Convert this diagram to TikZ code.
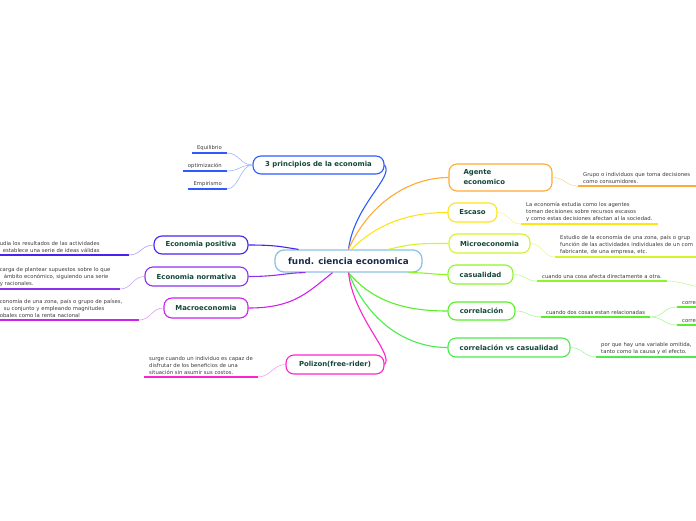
\documentclass[tikz,border=0pt]{standalone}
\usepackage{fontspec}
\setmainfont{DejaVu Sans}
\usetikzlibrary{positioning, calc}

\definecolor{hubline}{HTML}{8CC2E6}
\definecolor{hubtext}{HTML}{1B2B4B}
\definecolor{toptext}{HTML}{14473A}
\definecolor{leaftext}{HTML}{3A3A3A}
\definecolor{cblue}{HTML}{2D5BFF}
\definecolor{corange}{HTML}{FFAA33}
\definecolor{cyellow}{HTML}{FFE414}
\definecolor{cmicro}{HTML}{D2F52A}
\definecolor{clime}{HTML}{8CF52A}
\definecolor{cgreen}{HTML}{5AEE2A}
\definecolor{cgreenb}{HTML}{4CEB4C}
\definecolor{cindigo}{HTML}{4A22EE}
\definecolor{cviolet}{HTML}{8A33EE}
\definecolor{cmagenta}{HTML}{CC22EE}
\definecolor{cpink}{HTML}{FF22CC}

\begin{document}
\begin{tikzpicture}[
    x=1pt, y=-1pt,
    hub/.style={draw=hubline, line width=1.3pt, rounded corners=9pt, fill=white, minimum width=147pt, minimum height=22pt, font=\fontsize{8.8}{10}\selectfont\bfseries, text=hubtext},
    topic/.style={draw, line width=1.1pt, rounded corners=8pt, fill=white, minimum height=19pt, font=\fontsize{6.9}{8}\selectfont\bfseries, text=toptext},
    leaf/.style={inner xsep=5pt, inner ysep=2pt, font=\fontsize{5.3}{7}\selectfont, text=leaftext, align=left},
    link/.style={line width=1.1pt},
    sublink/.style={line width=0.6pt},
    uline/.style={line width=1.6pt}
]
    \useasboundingbox (0,0) rectangle (696,520);

    % --- Centre ---
    \node[hub] (fund) at (348.5,261) {fund. ciencia economica};

    % --- Topics, right side ---
    \node[topic, draw=cblue, minimum width=131pt, minimum height=18pt] (princ) at (318.5,165) {3 principios de la economia};
    \node[topic, draw=corange, minimum width=103pt, minimum height=27pt, text width=74pt, align=left, inner xsep=14.5pt, font=\fontsize{6.9}{10}\selectfont\bfseries] (agente) at (500.5,177.5) {Agente\\economico};
    \node[topic, draw=cyellow, minimum width=49pt] (escaso) at (472.5,212.5) {Escaso};
    \node[topic, draw=cmicro, minimum width=81pt] (micro) at (489.5,243.5) {Microeconomia};
    \node[topic, draw=clime, minimum width=65pt] (casual) at (480.5,274.5) {casualidad};
    \node[topic, draw=cgreen, minimum width=67pt, minimum height=18pt] (correl) at (481.5,311) {correlación};
    \node[topic, draw=cgreenb, minimum width=122pt] (corcas) at (509,347.5) {correlación vs casualidad};

    % --- Topics, left side ---
    \node[topic, draw=cindigo, minimum width=94pt, minimum height=18pt] (pos) at (201,245) {Economia positiva};
    \node[topic, draw=cviolet, minimum width=103pt] (norm) at (196.5,276.5) {Economia normativa};
    \node[topic, draw=cmagenta, minimum width=84pt, minimum height=20pt] (macro) at (206,308) {Macroeconomia};
    \node[topic, draw=cpink, minimum width=98pt] (poliz) at (335,364.5) {Polizon(free-rider)};

    % Links from the centre
    \draw[link, cblue] (fund.north) .. controls +(6,-45) and +(10,12) .. (princ.east);
    \draw[link, corange] (fund.north) .. controls +(20,-45) and +(-40,0) .. (agente.west);
    \draw[link, cyellow] ([xshift=3pt]fund.north) .. controls +(25,-25) and +(-40,0) .. (escaso.west);
    \draw[link, cmicro] ([xshift=40pt]fund.north) .. controls +(25,-6) and +(-30,0) .. (micro.west);
    \draw[link, clime] ([xshift=60pt]fund.south) .. controls +(20,0) and +(-15,0) .. (casual.west);
    \draw[link, cgreen] (fund.south) .. controls +(25,30) and +(-40,0) .. (correl.west);
    \draw[link, cgreenb] (fund.south) .. controls +(20,50) and +(-40,0) .. (corcas.west);
    \draw[link, cpink] (fund.south) .. controls +(5,45) and +(10,-10) .. (poliz.east);
    \draw[link, cindigo] (pos.east) .. controls +(30,0) and +(-15,-2) .. ([xshift=-50pt]fund.north);
    \draw[link, cviolet] (norm.east) .. controls +(30,0) and +(-20,0) .. ([xshift=-43pt]fund.south);
    \draw[link, cmagenta] (macro.east) .. controls +(45,0) and +(-25,20) .. ([xshift=-16pt]fund.south);

    % --- Leaves ---
    \node[leaf, anchor=south east] (equil) at (227,153) {Equilibrio};
    \node[leaf, anchor=south east] (optim) at (227,171) {optimización};
    \node[leaf, anchor=south east] (empir) at (227,189) {Empirismo};
    \node[leaf, anchor=south west, text width=160pt] (agleaf) at (578,186) {Grupo o individuos que toma decisiones\\como consumidores.};
    \node[leaf, anchor=south west] (escleaf) at (521,224) {La economía estudia como los agentes\\toman decisiones sobre recursos escasos\\y como estas decisiones afectan al la sociedad.};
    \node[leaf, anchor=south west, text width=160pt] (micleaf) at (555,257) {Estudio de la economía de una zona, país o grup\\función de las actividades individuales de un com\\fabricante, de una empresa, etc.};
    \node[leaf, anchor=south west] (casleaf) at (537,281) {cuando una cosa afecta directamente a otra.};
    \node[leaf, anchor=south west] (corleaf) at (541,317) {cuando dos cosas estan relacionadas};
    \node[leaf, anchor=south west, text width=60pt] (corrA) at (677,307) {corre};
    \node[leaf, anchor=south west, text width=60pt] (corrB) at (677,325) {corre};
    \node[leaf, anchor=south west, text width=130pt] (cvcleaf) at (596,357) {por que hay una variable omitida,\\tanto como la causa y el efecto.};
    \node[leaf, anchor=south east, text width=124pt] (posleaf) at (129,255) {udia los resultados de las actividades\\\hspace*{3pt}establece una serie de ideas válidas};
    \node[leaf, anchor=south east, text width=115pt] (normleaf) at (120,289) {carga de plantear supuestos sobre lo que\\\hspace*{4pt}ámbito económico, siguiendo una serie\\y racionales.};
    \node[leaf, anchor=south east, text width=134pt] (macleaf) at (139,320) {conomía de una zona, país o grupo de países,\\\hspace*{4pt}su conjunto y empleando magnitudes\\obales como la renta nacional};
    \node[leaf, anchor=south west] (polleaf) at (144,377) {surge cuando un individuo es capaz de\\disfrutar de los beneficios de una\\situación sin asumir sus costos.};
    \coordinate (casnext) at (710,288);

    % Underlines
    \draw[uline, cblue] (equil.south west) -- (equil.south east);
    \draw[uline, cblue] (optim.south west) -- (optim.south east);
    \draw[uline, cblue] (empir.south west) -- (empir.south east);
    \draw[uline, corange] (agleaf.south west) -- (agleaf.south east);
    \draw[uline, cyellow] (escleaf.south west) -- (escleaf.south east);
    \draw[uline, cmicro] (micleaf.south west) -- (micleaf.south east);
    \draw[uline, clime] (casleaf.south west) -- (casleaf.south east);
    \draw[uline, cgreen] (corleaf.south west) -- (corleaf.south east);
    \draw[uline, cgreen] (corrA.south west) -- (corrA.south east);
    \draw[uline, cgreen] (corrB.south west) -- (corrB.south east);
    \draw[uline, cgreenb] (cvcleaf.south west) -- (cvcleaf.south east);
    \draw[uline, cindigo] (posleaf.south west) -- (posleaf.south east);
    \draw[uline, cviolet] (normleaf.south west) -- (normleaf.south east);
    \draw[uline, cmagenta] (macleaf.south west) -- (macleaf.south east);
    \draw[uline, cpink] (polleaf.south west) -- (polleaf.south east);

    % Links to the leaves
    \draw[sublink, cblue!45] (princ.west) .. controls +(-12,0) and +(12,0) .. (equil.south east);
    \draw[sublink, cblue!45] (princ.west) .. controls +(-12,0) and +(12,0) .. (optim.south east);
    \draw[sublink, cblue!45] (princ.west) .. controls +(-12,0) and +(12,0) .. (empir.south east);
    \draw[sublink, corange!50] (agente.east) .. controls +(13,0) and +(-13,0) .. (agleaf.south west);
    \draw[sublink, cyellow!50] (escaso.east) .. controls +(12,0) and +(-12,0) .. (escleaf.south west);
    \draw[sublink, cmicro!50] (micro.east) .. controls +(12,0) and +(-12,0) .. (micleaf.south west);
    \draw[sublink, clime!50] (casual.east) .. controls +(12,0) and +(-12,0) .. (casleaf.south west);
    \draw[sublink, clime!50] (casleaf.south east) .. controls +(14,0) and +(-14,0) .. (casnext);
    \draw[sublink, cgreen!50] (correl.east) .. controls +(12,0) and +(-12,0) .. (corleaf.south west);
    \draw[sublink, cgreen!50] (corleaf.south east) .. controls +(14,0) and +(-14,0) .. (corrA.south west);
    \draw[sublink, cgreen!50] (corleaf.south east) .. controls +(14,0) and +(-14,0) .. (corrB.south west);
    \draw[sublink, cgreenb!50] (corcas.east) .. controls +(12,0) and +(-12,0) .. (cvcleaf.south west);
    \draw[sublink, cindigo!45] (pos.west) .. controls +(-12,0) and +(12,0) .. (posleaf.south east);
    \draw[sublink, cviolet!45] (norm.west) .. controls +(-12,0) and +(12,0) .. (normleaf.south east);
    \draw[sublink, cmagenta!45] (macro.west) .. controls +(-12,0) and +(12,0) .. (macleaf.south east);
    \draw[sublink, cpink!45] (poliz.west) .. controls +(-12,0) and +(12,0) .. (polleaf.south east);

\end{tikzpicture}
\end{document}
